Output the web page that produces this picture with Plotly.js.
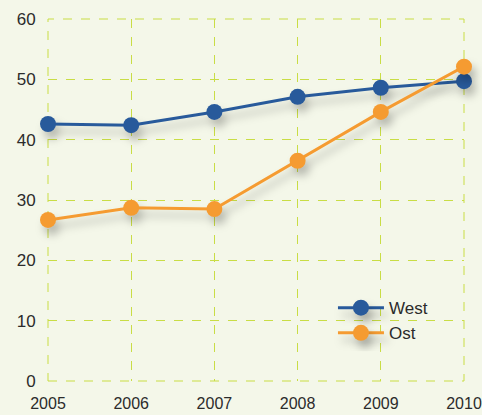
<!DOCTYPE html>
<html><head><meta charset="utf-8">
<script src="https://cdn.plot.ly/plotly-3.0.1.min.js"></script>
<style>
html,body{margin:0;padding:0;background:#f4f7e9;}
#chart{width:482px;height:415px;}
.scatterlayer .trace, .legend .traces .legendpoints, .legend .traces .legendlines {filter: drop-shadow(4px 7px 4px rgba(0,0,0,0.25));}
</style></head>
<body><div id="chart"></div>
<script>
const years = [2005, 2006, 2007, 2008, 2009, 2010];
const west = [42.6, 42.4, 44.6, 47.1, 48.6, 49.7];
const ost = [26.7, 28.7, 28.5, 36.5, 44.6, 52.1];
const seriesNames = ['West', 'Ost'];

const traces = [
  {x: years, y: west, name: seriesNames[0], type: 'scatter', mode: 'lines+markers',
   line: {color: '#285a9b', width: 3}, marker: {color: '#285a9b', size: 16}, cliponaxis: false},
  {x: years, y: ost, name: seriesNames[1], type: 'scatter', mode: 'lines+markers',
   line: {color: '#f59b31', width: 3}, marker: {color: '#f59b31', size: 16}, cliponaxis: false}
];
const gridColor = '#c9dd45';
const layout = {
  width: 482, height: 415,
  paper_bgcolor: '#f4f7e9', plot_bgcolor: '#f4f7e9',
  margin: {l: 48, r: 18, t: 19, b: 34},
  font: {family: 'Liberation Sans, Arial, sans-serif', size: 17, color: '#2b2b2b'},
  showlegend: true,
  legend: {x: 0.685, y: 0.251, xanchor: 'left', yanchor: 'top', bgcolor: 'rgba(0,0,0,0)',
           font: {size: 17, color: '#2b2b2b'}, itemwidth: 46, tracegroupgap: 0},
  xaxis: {range: [2005, 2010], tickvals: years, ticktext: years.map(String),
          tickfont: {size: 16},
          showgrid: true, gridcolor: gridColor, griddash: 'dash', gridwidth: 1,
          zeroline: false, showline: false, ticks: 'outside', ticklen: 8, tickcolor: 'rgba(0,0,0,0)',
          ticklabeloverflow: 'allow', fixedrange: true, automargin: false},
  yaxis: {range: [0, 60], tickvals: [0,10,20,30,40,50,60],
          showgrid: true, gridcolor: gridColor, griddash: 'dash', gridwidth: 1,
          zeroline: false, showline: false, ticks: 'outside', ticklen: 8, tickcolor: 'rgba(0,0,0,0)',
          ticklabeloverflow: 'allow', fixedrange: true, automargin: false},
  shapes: [
    {type: 'rect', xref: 'paper', yref: 'paper', x0: 0, x1: 1, y0: 0, y1: 1,
     line: {color: gridColor, width: 1, dash: 'dash'}, layer: 'below'}
  ]
};
Plotly.newPlot('chart', traces, layout, {displayModeBar: false, staticPlot: true});
</script></body></html>
